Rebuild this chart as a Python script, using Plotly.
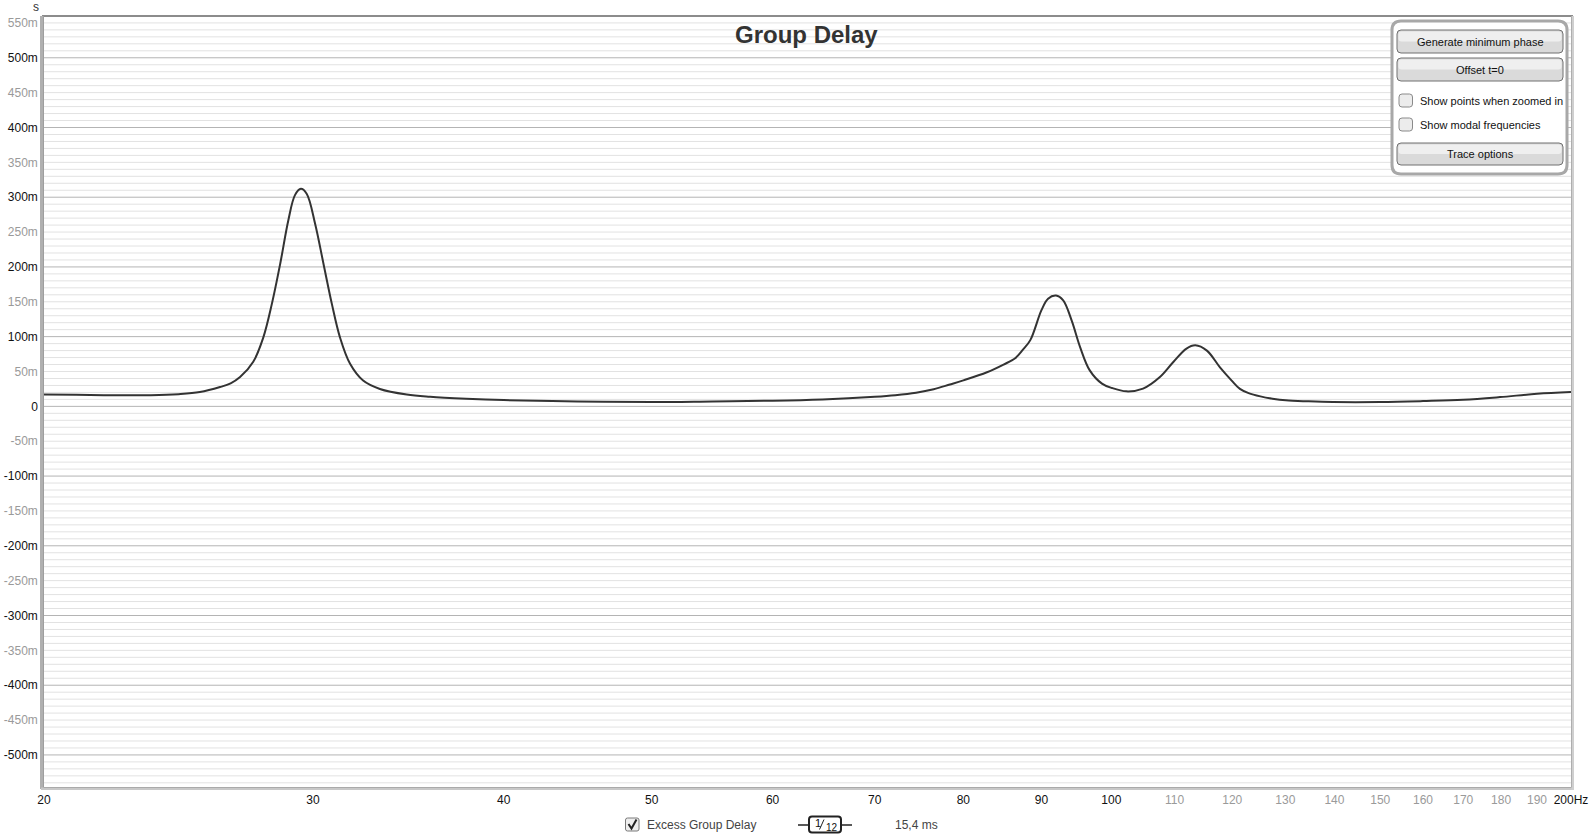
import math
import plotly.graph_objects as go

# ---------------- data ----------------
freq_hz = [20.0, 21.0, 22.2, 23.5, 24.5, 25.3, 26.08, 26.5, 26.88, 27.42, 27.84, 28.2, 28.56,
           28.91, 29.2, 29.46, 29.72, 30.1, 30.48, 30.87, 31.25, 31.73, 32.36, 33.19,
           34.56, 35.8, 37.8, 40.0, 44.7, 50.0, 54.8, 60.0, 64.7, 70.0, 72.2, 74.5, 76.5,
           78.4, 80.0, 82.9, 85.0, 86.5, 87.5, 88.5, 90.0, 90.9, 92.0, 93.0, 94.2, 95.4,
           96.8, 98.6, 100.1, 102.3, 104.9, 107.6, 109.8, 112.0, 113.5, 115.5, 117.8,
           119.9, 121.4, 123.0, 125.2, 127.5, 130.1, 134.5, 139.7, 150.0, 160.0, 170.0,
           179.7, 190.0, 200.0]
delay_ms = [17, 16.5, 16, 16, 17.5, 20.5, 27.7, 33, 42, 64, 99, 147, 205,
            267, 303, 312, 305, 262, 205, 147, 99, 61, 37, 25,
            17, 13.8, 11, 9, 7.1, 6.2, 7.1, 8.1, 10, 13.8, 16.0, 19.5, 24.5,
            31.4, 37.3, 49, 60, 69, 81, 95, 138, 154.5, 159, 152, 123, 85,
            51.6, 32.6, 26.3, 21.5, 25.4, 42, 63.6, 82.8, 87.5, 80, 56,
            37, 25, 19, 14.3, 11, 8.6, 7.2, 6.2, 6.2, 7.6, 9.5,
            13.3, 18, 20.5]

x_major_ticks = [20, 30, 40, 50, 60, 70, 80, 90, 100]
x_minor_ticks = [110, 120, 130, 140, 150, 160, 170, 180, 190]
x_end_tick = 200
y_label_ms = list(range(-500, 551, 50))
y_minor_ms = list(range(-540, 551, 10))

title_text = "Group Delay"
legend_text = "Excess Group Delay"
smoothing_text = "15,4 ms"
panel_buttons = ["Generate minimum phase", "Offset t=0", "Trace options"]
panel_checks = ["Show points when zoomed in", "Show modal frequencies"]

# ---------------- geometry helpers ----------------
W, H = 1592, 839
L, R, T, B = 44, 1571, 17, 787
FONT = "Liberation Sans, Arial, sans-serif"


def px(x):
    return (x - L) / (R - L)


def py(y):
    return (B - y) / (B - T)


def rrect_path(x0, y0, x1, y1, r):
    X, Y = px, py
    return (f"M {X(x0 + r)},{Y(y0)} L {X(x1 - r)},{Y(y0)} Q {X(x1)},{Y(y0)} {X(x1)},{Y(y0 + r)} "
            f"L {X(x1)},{Y(y1 - r)} Q {X(x1)},{Y(y1)} {X(x1 - r)},{Y(y1)} "
            f"L {X(x0 + r)},{Y(y1)} Q {X(x0)},{Y(y1)} {X(x0)},{Y(y1 - r)} "
            f"L {X(x0)},{Y(y0 + r)} Q {X(x0)},{Y(y0)} {X(x0 + r)},{Y(y0)} Z")


fig = go.Figure()
fig.add_trace(go.Scatter(
    x=freq_hz, y=[v / 1000.0 for v in delay_ms], mode="lines",
    line=dict(color="#333333", width=2, shape="spline", smoothing=1.0),
    hoverinfo="skip", showlegend=False))

shapes = []
# horizontal grid
for v in y_minor_ms:
    col = "#b4b4b4" if v % 100 == 0 else "#e2e2e2"
    shapes.append(dict(type="line", xref="paper", yref="y", x0=0, x1=1, y0=v / 1000.0, y1=v / 1000.0,
                       line=dict(color=col, width=1), layer="below"))
# vertical grid
for f in x_major_ticks[1:]:
    col = "#7c7c7c" if f == 100 else "#c4c4c4"
    shapes.append(dict(type="line", xref="x", yref="paper", x0=math.log10(f), x1=math.log10(f), y0=0, y1=1,
                       line=dict(color=col, width=1), layer="below"))
for f in x_minor_ticks:
    shapes.append(dict(type="line", xref="x", yref="paper", x0=math.log10(f), x1=math.log10(f), y0=0, y1=1,
                       line=dict(color="#e2e2e2", width=1), layer="below"))

# frame shadows
shapes.append(dict(type="rect", xref="paper", yref="paper", x0=px(40), x1=px(43.5), y0=py(789), y1=py(16),
                   fillcolor="#b0b0b0", line=dict(width=0), layer="above"))
shapes.append(dict(type="rect", xref="paper", yref="paper", x0=px(41), x1=px(1574), y0=py(790), y1=py(787.5),
                   fillcolor="#c8c8c8", line=dict(width=0), layer="above"))
shapes.append(dict(type="rect", xref="paper", yref="paper", x0=px(1571.5), x1=px(1574), y0=py(790), y1=py(16),
                   fillcolor="#cfcfcf", line=dict(width=0), layer="above"))

# control panel
shapes.append(dict(type="path", xref="paper", yref="paper", path=rrect_path(1392, 21, 1567, 174, 9),
                   fillcolor="#ffffff", line=dict(color="#a8a8a8", width=3), layer="above"))
button_y = [(30, 53), (58, 81), (143, 165)]
for (y0, y1) in button_y:
    shapes.append(dict(type="path", xref="paper", yref="paper", path=rrect_path(1397, y0, 1563, y1, 4),
                       fillcolor="#dadada", line=dict(color="#707070", width=1), layer="above"))
    shapes.append(dict(type="path", xref="paper", yref="paper",
                       path=rrect_path(1398.5, y0 + 1.5, 1561.5, (y0 + y1) / 2, 3),
                       fillcolor="#efefef", line=dict(width=0), layer="above"))
check_y = [(94, 107), (118, 131)]
for (y0, y1) in check_y:
    shapes.append(dict(type="path", xref="paper", yref="paper", path=rrect_path(1399, y0, 1412.5, y1, 3),
                       fillcolor="#ececec", line=dict(color="#8a8a8a", width=1), layer="above"))

# bottom legend: checkbox with tick
shapes.append(dict(type="path", xref="paper", yref="paper", path=rrect_path(625.5, 818, 639, 831, 2),
                   fillcolor="#eeeeee", line=dict(color="#7a7a7a", width=1), layer="above"))
shapes.append(dict(type="path", xref="paper", yref="paper",
                   path=f"M {px(628.5)},{py(824)} L {px(631.5)},{py(828.5)} L {px(636.5)},{py(819.5)}",
                   line=dict(color="#222222", width=2), layer="above"))
# smoothing icon
shapes.append(dict(type="line", xref="paper", yref="paper", x0=px(798), x1=px(852), y0=py(825), y1=py(825),
                   line=dict(color="#222222", width=1.5), layer="above"))
shapes.append(dict(type="path", xref="paper", yref="paper", path=rrect_path(809, 816.5, 841, 832.5, 3),
                   fillcolor="#ffffff", line=dict(color="#222222", width=2), layer="above"))
shapes.append(dict(type="line", xref="paper", yref="paper", x0=px(819.5), x1=px(824), y0=py(829.5), y1=py(819.5),
                   line=dict(color="#222222", width=1), layer="above"))

annotations = []


def ann(x, y, text, size=12, color="#222222", xanchor="center", bold=False):
    annotations.append(dict(xref="paper", yref="paper", x=px(x), y=py(y), text=f"<b>{text}</b>" if bold else text,
                            showarrow=False, xanchor=xanchor, yanchor="middle",
                            font=dict(family=FONT, size=size, color=color)))


ann(806, 34.5, title_text, size=24, color="#333333", bold=True)
ann(36, 7, "s", size=12, color="#333333")
for (y0, y1), label in zip(button_y, panel_buttons):
    ann(1480, (y0 + y1) / 2, label, size=11, color="#111111")
for (y0, y1), label in zip(check_y, panel_checks):
    ann(1418, (y0 + y1) / 2, label, size=11, color="#111111", xanchor="left")
ann(645, 825, legend_text, size=12, color="#444444", xanchor="left")
ann(817.5, 822.5, "1", size=11, color="#111111")
ann(831.5, 827.5, "12", size=10, color="#111111")
ann(916, 825, smoothing_text, size=12, color="#444444")

# tick labels
x_tickvals = x_major_ticks + x_minor_ticks + [x_end_tick]
x_ticktext = ([str(v) for v in x_major_ticks]
              + [f'<span style="color:#9a9a9a">{v}</span>' for v in x_minor_ticks]
              + [f"{x_end_tick}Hz"])


def ylab(v):
    s = "0" if v == 0 else f"{v}m"
    if v % 100 != 0:
        return f'<span style="color:#9a9a9a">{s}</span>'
    return s


fig.update_layout(
    width=W, height=H,
    margin=dict(l=L, r=W - R, t=T, b=H - B, pad=0),
    paper_bgcolor="#ffffff", plot_bgcolor="#ffffff",
    font=dict(family=FONT, size=12, color="#111111"),
    xaxis=dict(type="log", range=[math.log10(20), math.log10(200)], tickvals=x_tickvals, ticktext=x_ticktext,
               showgrid=False, zeroline=False, ticks="", ticklabelstandoff=1, automargin=False,
               showline=True, mirror=True, linecolor="#8c8c8c", linewidth=1.5,
               tickfont=dict(family=FONT, size=12, color="#111111")),
    yaxis=dict(range=[-0.546, 0.5585], tickvals=[v / 1000.0 for v in y_label_ms],
               ticktext=[ylab(v) for v in y_label_ms], automargin=False,
               showgrid=False, zeroline=False, ticks="", ticklabelstandoff=2,
               showline=True, mirror=True, linecolor="#8c8c8c", linewidth=1.5,
               tickfont=dict(family=FONT, size=12, color="#111111")),
    shapes=shapes, annotations=annotations, showlegend=False,
)

fig.write_html("out.html", config={"displayModeBar": False},
               post_script="document.body.style.margin='0';document.body.style.overflow='hidden';")
